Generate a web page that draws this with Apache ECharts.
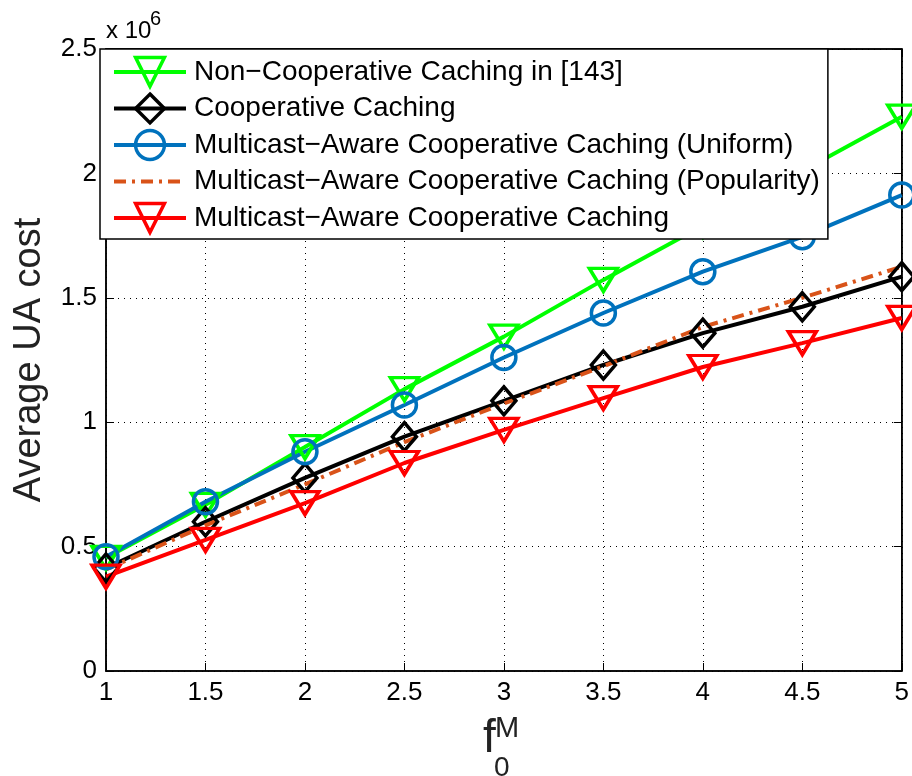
<!DOCTYPE html>
<html>
<head>
<meta charset="utf-8">
<script src="https://cdn.jsdelivr.net/npm/echarts@6/dist/echarts.min.js"></script>
<style>
  html, body { margin: 0; padding: 0; background: #fff; }
  #chart { width: 912px; height: 776px; }
</style>
</head>
<body>
<div id="chart"></div>
<script>
// Normalised multicast file size f_0^M on the x axis
var fValues = [1, 1.5, 2, 2.5, 3, 3.5, 4, 4.5, 5];

// Average user-association cost for each scheme
var nonCooperative   = [455000, 668000, 900000, 1133000, 1344000, 1572000, 1790000, 2010000, 2228000];
var cooperative      = [414000, 600000, 776000, 942000, 1086000, 1230000, 1358000, 1464000, 1585000];
var multicastUniform = [459000, 680000, 881000, 1069000, 1260000, 1439000, 1605000, 1745000, 1913000];
var multicastPopular = [408000, 585000, 750000, 920000, 1075000, 1225000, 1383000, 1500000, 1625000];
var multicastAware   = [379000, 527000, 675000, 836000, 969000, 1097000, 1222000, 1318000, 1419000];

var seriesNames = [
  'Non\u2212Cooperative Caching in [143]',
  'Cooperative Caching',
  'Multicast\u2212Aware Cooperative Caching (Uniform)',
  'Multicast\u2212Aware Cooperative Caching (Popularity)',
  'Multicast\u2212Aware Cooperative Caching'
];

var yTickLabels = ['0', '0.5', '1', '1.5', '2', '2.5'];

var FONT = '"Liberation Sans", Arial, Helvetica, sans-serif';

function pairs(ys) {
  return ys.map(function (y, i) { return [fValues[i], y]; });
}

function lineSeries(name, ys, color, symbol, size, rotate, lineType) {
  return {
    name: name,
    type: 'line',
    data: pairs(ys),
    xAxisIndex: 0,
    yAxisIndex: 0,
    lineStyle: { color: color, width: 4, type: lineType || 'solid' },
    symbol: symbol,
    symbolSize: size,
    symbolRotate: rotate || 0,
    showAllSymbol: true,
    itemStyle: symbol === 'rect'
      ? { color: 'rgba(255,255,255,0)', borderWidth: 0 }
      : { color: 'rgba(255,255,255,0)', borderColor: color, borderWidth: 3.5 },
    emphasis: { disabled: true },
    animation: false
  };
}

var chart = echarts.init(document.getElementById('chart'), null, { renderer: 'canvas' });

var dottedGrid = {
  show: true, lineStyle: { color: '#000', width: 1, type: [1, 5] }
};

function frameAxis(extra) {
  var a = {
    axisLine: { show: true, onZero: false, lineStyle: { color: '#000', width: 1.5 } },
    axisTick: { show: true, inside: true, length: 8, lineStyle: { color: '#000', width: 1 } },
    axisLabel: { show: false },
    splitLine: { show: false }
  };
  for (var k in extra) a[k] = extra[k];
  return a;
}

var option = {
  backgroundColor: '#fff',
  animation: false,
  textStyle: { fontFamily: FONT },
  grid: {
    left: 106, right: 10, top: 49, bottom: 105,
    show: true, borderColor: '#000', borderWidth: 1.5, backgroundColor: '#fff'
  },
  xAxis: [
    frameAxis({
      type: 'value', min: 1, max: 5, interval: 0.5,
      axisLabel: { color: '#000', fontSize: 26, fontFamily: FONT, margin: 9,
        formatter: function (v) { return String(v); } },
      splitLine: dottedGrid
    }),
    frameAxis({ type: 'value', min: 1, max: 5, interval: 0.5, position: 'top' })
  ],
  yAxis: [
    frameAxis({
      type: 'value', min: 0, max: 2500000, interval: 500000,
      name: 'Average UA cost', nameLocation: 'middle', nameGap: 57,
      nameTextStyle: { color: '#222', fontSize: 38, fontFamily: FONT },
      axisLabel: { color: '#000', fontSize: 26, fontFamily: FONT, margin: 9,
        formatter: function (v) { return yTickLabels[Math.round(v / 500000)]; } },
      splitLine: dottedGrid
    }),
    frameAxis({ type: 'value', min: 0, max: 2500000, interval: 500000, position: 'right' })
  ],
  legend: {
    show: true,
    orient: 'vertical',
    left: 100, top: 49,
    padding: [5, 8, 3, 12],
    itemGap: 0.5,
    itemWidth: 72, itemHeight: 36,
    backgroundColor: '#fff',
    borderColor: '#000', borderWidth: 1.5,
    lineStyle: { width: 4 },
    itemStyle: { borderWidth: 3.5 },
    textStyle: { color: '#000', fontSize: 28, lineHeight: 36, fontFamily: FONT, padding: [0, 0, 0, 3] },
    selectedMode: false,
    data: seriesNames
  },
  series: [
    lineSeries(seriesNames[0], nonCooperative, '#00FF00', 'triangle', [28, 23], 180),
    lineSeries(seriesNames[1], cooperative, '#000000', 'diamond', [24, 28], 0),
    lineSeries(seriesNames[2], multicastUniform, '#0072BD', 'circle', 24, 0),
    lineSeries(seriesNames[3], multicastPopular, '#D95319', 'rect', 1, 0, [12, 6, 3, 6]),
    lineSeries(seriesNames[4], multicastAware, '#FF0000', 'triangle', [28, 23], 180)
  ],
  graphic: [
    { type: 'text', left: 106, top: 19,
      style: { text: 'x 10', fontSize: 24, fontFamily: FONT, fill: '#000' } },
    { type: 'text', left: 150, top: 9,
      style: { text: '6', fontSize: 20, fontFamily: FONT, fill: '#000' } },
    { type: 'text', left: 483, top: 716,
      style: { text: 'f', fontSize: 46, fontFamily: FONT, fill: '#222' } },
    { type: 'text', left: 495, top: 714,
      style: { text: 'M', fontSize: 29, fontFamily: FONT, fill: '#222' } },
    { type: 'text', left: 494, top: 754,
      style: { text: '0', fontSize: 28, fontFamily: FONT, fill: '#222' } }
  ]
};

chart.setOption(option);
</script>
</body>
</html>
